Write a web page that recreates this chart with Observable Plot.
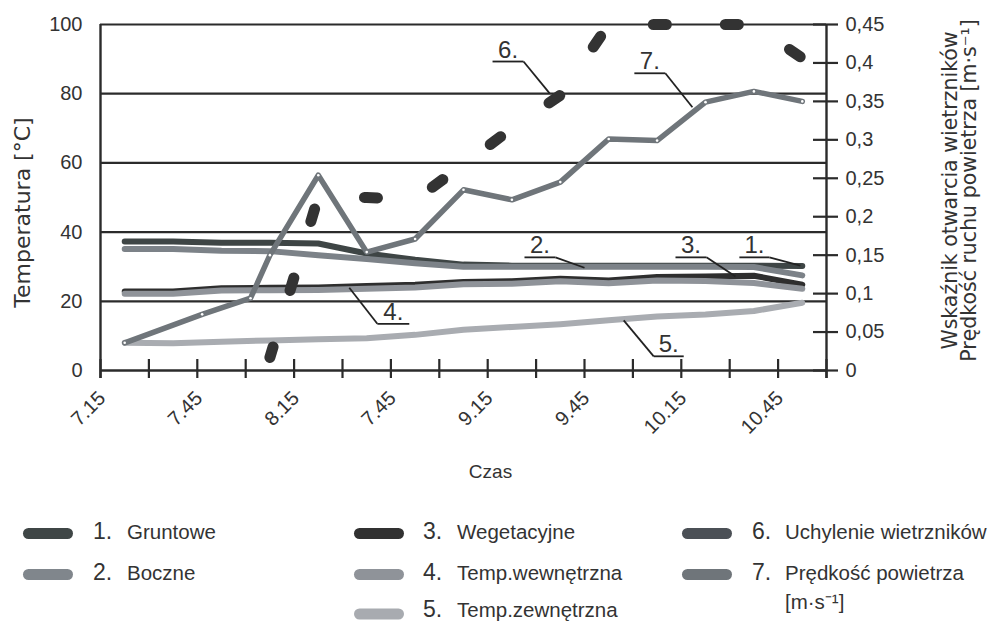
<!DOCTYPE html>
<html>
<head>
<meta charset="utf-8">
<script src="https://cdn.jsdelivr.net/npm/d3@7"></script>
<script src="https://cdn.jsdelivr.net/npm/@observablehq/plot@0.6"></script>
<style>
  body { margin: 0; background: #fff; }
  #wrap { position: relative; width: 998px; height: 622px; overflow: hidden; background: #fff; }
  #wrap > svg { position: absolute; left: 0; }
</style>
</head>
<body>
<div id="wrap"></div>
<script>
// ---------- data ----------
const categories = ["7:15","7:30","7:45","8:00","8:15","8:30","8:45","9:00","9:15","9:30","9:45","10:00","10:15","10:30","10:45"];
const xTickLabels = ["7.15","7.45","8.15","7.45","9.15","9.45","10.15","10.45"];
const leftTicks = [0, 20, 40, 60, 80, 100];
const rightTicks = [0, 0.05, 0.1, 0.15, 0.2, 0.25, 0.3, 0.35, 0.4, 0.45];
const rightTickLabels = ["0","0,05","0,1","0,15","0,2","0,25","0,3","0,35","0,4","0,45"];

// temperatures [°C] (left axis), one value per category
const gruntowe     = [37.3, 37.3, 36.9, 36.9, 36.7, 33.8, 32.0, 30.6, 30.3, 30.3, 30.3, 30.3, 30.3, 30.3, 30.2];
const boczne       = [35.1, 35.1, 34.6, 34.5, 33.3, 32.2, 31.0, 30.0, 30.0, 30.0, 30.0, 30.0, 30.0, 29.9, 27.5];
const wegetacyjne  = [22.8, 22.8, 23.8, 23.9, 24.0, 24.4, 24.8, 25.6, 25.8, 26.5, 26.0, 27.0, 27.2, 27.4, 24.8];
const tempWewn     = [22.2, 22.2, 23.1, 23.2, 23.3, 23.6, 24.0, 24.9, 25.1, 25.8, 25.2, 26.0, 25.9, 25.3, 23.6];
const tempZewn     = [8.0, 7.9, 8.3, 8.7, 9.0, 9.3, 10.3, 11.8, 12.6, 13.4, 14.5, 15.6, 16.2, 17.2, 19.6];

// vent opening index (right axis), starting at category 8:00
const openingStart = 3;
const opening = [0.017, 0.226, 0.225, 0.222, 0.268, 0.315, 0.358, 0.45, 0.45, 0.45, 0.45, 0.406];

// air speed [m/s] (right axis); positions in category units
const speedPos = [0, 1.6, 2.6, 3, 4, 5, 6, 7, 8, 9, 10, 11, 12, 13, 14];
const speed    = [0.036, 0.073, 0.094, 0.150, 0.254, 0.154, 0.171, 0.235, 0.222, 0.245, 0.301, 0.299, 0.349, 0.363, 0.350];

// numbered callouts (data coordinates: category index, °C)
const annLabels  = ["1.", "2.", "3.", "4.", "5.", "6.", "7."];
const annX1      = [12.70, 8.26, 11.38, 5.22, 10.93, 7.60, 10.53];
const annX2      = [13.32, 8.90, 12.02, 5.88, 11.55, 8.24, 11.17];
const annY       = [32.7, 32.7, 32.7, 13.5, 4.1, 89.3, 85.9];
const annFromLeft = [false, false, false, true, true, false, false];
const annTX      = [13.96, 9.5, 12.62, 4.64, 10.31, 8.78, 11.73];
const annTY      = [30.3, 29.7, 27.2, 23.9, 14.5, 80.1, 76.1];

const legendNumbers = ["1.", "2.", "3.", "4.", "5.", "6.", "7."];
const legendLabels = ["Gruntowe", "Boczne", "Wegetacyjne", "Temp.wewnętrzna", "Temp.zewnętrzna", "Uchylenie wietrzników", "Prędkość powietrza\n[m·s⁻¹]"];

const xLabelTitle = "Czas";
const leftTitle = "Temperatura [°C]";
const rightTitle = "Wskaźnik otwarcia wietrzników\nPrędkość ruchu powietrza [m·s⁻¹]";

// ---------- chart ----------
const rightToLeft = 100 / 0.45;
const xDomain = [-0.5, categories.length - 0.5];
const tickBounds = d3.range(xDomain[0], xDomain[1] + 0.01, 1);

const tempValues = [gruntowe, boczne, wegetacyjne, tempWewn, tempZewn];
const tempColors = ["#3e4545", "#7c8288", "#2e2e2e", "#8f9399", "#a9acb1"];
const speedRows = speed.map((v, i) => ({x: speedPos[i], y: v * rightToLeft}));
const openingRows = opening.map((v, i) => ({x: openingStart + i, y: v * rightToLeft}));
const ann = annLabels.map((l, i) => ({
  l, x1: annX1[i], x2: annX2[i], y: annY[i],
  sx: annFromLeft[i] ? annX1[i] : annX2[i], tx: annTX[i], ty: annTY[i]
}));

const axisColor = "#2b2b2b";
const marks = [
  Plot.ruleY([20, 40, 60, 80, 100], {stroke: axisColor, strokeWidth: 2.2}),
  Plot.ruleY([0], {stroke: axisColor, strokeWidth: 2.4}),
  Plot.ruleX([xDomain[0], xDomain[1]], {y1: 100, y2: 0, insetBottom: -8, stroke: axisColor, strokeWidth: 2.4}),
  Plot.ruleX(tickBounds, {y1: 0, y2: 0, insetTop: -11, insetBottom: -8, stroke: axisColor, strokeWidth: 2.2}),
  Plot.ruleY(rightTicks.map(v => v * rightToLeft), {x1: xDomain[1], x2: xDomain[1], insetLeft: -13, insetRight: -12, stroke: axisColor, strokeWidth: 2.2}),
  Plot.axisY(leftTicks, {anchor: "left", tickSize: 0, tickPadding: 18, fontSize: 20, label: null}),
  Plot.axisY(rightTicks.map(v => v * rightToLeft), {
    anchor: "right", tickSize: 0, tickPadding: 19, fontSize: 20, label: null,
    tickFormat: d => rightTickLabels[rightTicks.findIndex(v => Math.abs(v * rightToLeft - d) < 1e-6)]
  }),
  Plot.text(xTickLabels, {x: (d, i) => i * 2, frameAnchor: "bottom", rotate: -45, textAnchor: "end", fontSize: 20, dx: -18, dy: 29}),
  Plot.text([xLabelTitle], {frameAnchor: "bottom", dx: 27, dy: 107, fontSize: 19}),
  Plot.text([leftTitle], {frameAnchor: "left", textAnchor: "middle", rotate: -90, dx: -78, dy: 15, fontSize: 22, fontFamily: "DejaVu Sans"}),
  Plot.text([rightTitle], {frameAnchor: "right", textAnchor: "middle", rotate: -90, dx: 134, dy: -7, fontSize: 20.5, lineHeight: 0.9, fontFamily: "DejaVu Sans"})
];
tempValues.forEach((vals, k) => {
  marks.push(Plot.line(vals.map((v, i) => ({x: i, y: v})), {
    x: "x", y: "y", stroke: tempColors[k], strokeWidth: 6, strokeLinecap: "round", strokeLinejoin: "round"
  }));
});
marks.push(
  Plot.line(speedRows, {x: "x", y: "y", stroke: "#6f757a", strokeWidth: 5.5, strokeLinecap: "round", strokeLinejoin: "round"}),
  Plot.dot(speedRows, {x: "x", y: "y", r: 1.3, fill: "white"}),
  Plot.line(openingRows, {x: "x", y: "y", stroke: "#333333", strokeWidth: 11, strokeDasharray: "13,59", strokeDashoffset: 2, strokeLinecap: "round", strokeLinejoin: "round"}),
  Plot.link(ann, {x1: "x1", x2: "x2", y1: "y", y2: "y", stroke: "#222", strokeWidth: 1.8}),
  Plot.link(ann, {x1: "sx", y1: "y", x2: "tx", y2: "ty", stroke: "#222", strokeWidth: 1.8}),
  Plot.text(ann, {x: d => (d.x1 + d.x2) / 2, y: "y", text: "l", lineAnchor: "bottom", dy: -4, fontSize: 24, fill: "#333"})
);

const chart = Plot.plot({
  width: 998,
  height: 490,
  marginLeft: 100,
  marginRight: 172,
  marginTop: 24,
  marginBottom: 120,
  x: {domain: xDomain, axis: null},
  y: {domain: [0, 100], axis: null},
  style: {fontFamily: "'Liberation Sans', Arial, sans-serif", color: "#333", background: "white", overflow: "visible"},
  marks
});
chart.style.top = "0px";
document.getElementById("wrap").appendChild(chart);

// ---------- legend ----------
const legendTop = 490;
const legendColors = ["#3f4646", "#80868c", "#313131", "#8f9399", "#a8abb0", "#4b5056", "#6f757a"];
const legendCol = [0, 0, 1, 1, 1, 2, 2];
const legendRow = [0, 1, 0, 1, 2, 0, 1];
const colSwatch = [23, 354, 682], colNum = [93, 423, 752], colText = [127, 457, 785];
const rowCenter = [533.5, 574.5, 614], rowBase = [539, 580, 617];

const lsvg = d3.create("svg")
  .attr("width", 998).attr("height", 622 - legendTop)
  .style("top", legendTop + "px")
  .attr("font-family", "'Liberation Sans', Arial, sans-serif")
  .attr("fill", "#333");
const g = lsvg.append("g").attr("transform", `translate(0,${-legendTop})`);
legendLabels.forEach((lab, i) => {
  const c = legendCol[i], r = legendRow[i];
  g.append("rect").attr("x", colSwatch[c]).attr("y", rowCenter[r] - 5.5)
    .attr("width", 50).attr("height", 11).attr("rx", 5.5).attr("fill", legendColors[i]);
  g.append("text").attr("x", colNum[c]).attr("y", rowBase[r]).attr("font-size", 23).text(legendNumbers[i]);
  lab.split("\n").forEach((line, j) => {
    g.append("text").attr("x", colText[c]).attr("y", rowBase[r] + j * 29).attr("font-size", 20.5).text(line);
  });
});
document.getElementById("wrap").appendChild(lsvg.node());
</script>
</body>
</html>
